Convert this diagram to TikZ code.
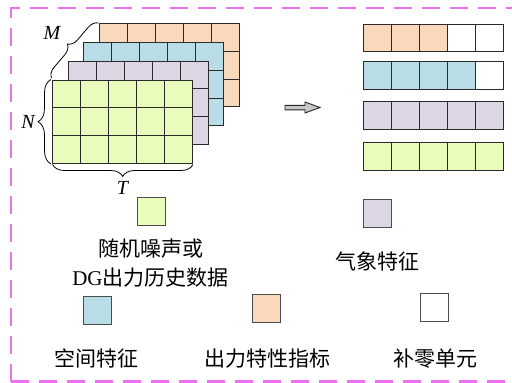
\documentclass[tikz,border=0pt]{standalone}
\usepackage{fontspec}
\setmainfont{Liberation Serif}
\newfontfamily\cjk{Noto Sans CJK SC}
\usetikzlibrary{decorations.pathreplacing}
\definecolor{cgreen}{HTML}{E9FCBC}
\definecolor{corange}{HTML}{FAD8BC}
\definecolor{cblue}{HTML}{B8DDE6}
\definecolor{cpurple}{HTML}{DDD7E5}
\definecolor{cborder}{HTML}{EE72EE}
\definecolor{cline}{HTML}{2A2A2A}
\tikzset{
  cellbox/.style={draw=cline, line width=0.9pt},
  legbox/.style={draw=black!70, line width=1.1pt, minimum width=28pt, minimum height=28pt, inner sep=0pt, anchor=north west},
  lbl/.style={font=\fontsize{21}{25}\selectfont\cjk, inner sep=0pt},
  mathlbl/.style={font=\fontsize{20}{24}\selectfont\itshape, inner sep=0pt},
  bracestyle/.style={draw=black, line width=0.8pt, decorate},
  framestyle/.style={cborder, line width=2.2pt, dash pattern=on 18pt off 10pt},
}
% grid block: x, y (top-left, pixel coords), fill colour
\newcommand{\gridblk}[3]{%
  \fill[#3] (#1,#2) rectangle ++(140,83.5);
  \foreach \i in {1,2,3,4} {\draw[cellbox] ({#1+28*\i},#2) -- ++(0,83.5);}
  \foreach \j in {1,2} {\draw[cellbox] (#1,{#2+27.83*\j}) -- ++(140,0);}
  \draw[cellbox] (#1,#2) rectangle ++(140,83.5);
}
% row: x, y, number of coloured cells, colour
\newcommand{\rowblk}[4]{%
  \foreach \i in {0,...,4} {
    \pgfmathsetmacro{\ci}{\i<#3 ? 1 : 0}
    \ifdim\ci pt>0.5pt
      \draw[cellbox, fill=#4] ({#1+28.1*\i},#2) rectangle ++(28.1,27.7);
    \else
      \draw[cellbox, fill=white] ({#1+28.1*\i},#2) rectangle ++(28.1,27.7);
    \fi
  }
}
\begin{document}
\begin{tikzpicture}[x=1pt,y=-1pt]
\useasboundingbox (0,0) rectangle (512,383);
\fill[white] (0,0) rectangle (512,383);
% dashed frame (right side lies beyond the picture)
\draw[framestyle] (11,381.5) -- (11,8) -- (520,8);
\draw[framestyle] (11,381.5) -- (520,381.5);

% stacked grids
\gridblk{99.3}{23.3}{corange}
\gridblk{83.5}{42.3}{cblue}
\gridblk{68.3}{61}{cpurple}
\gridblk{52.7}{80}{cgreen}

% braces
\coordinate (nb1) at (51,164);
\coordinate (nb2) at (51,79.5);
\draw[bracestyle, decoration={brace, amplitude=13pt}] (nb1) -- (nb2);
\coordinate (tb1) at (193,164.5);
\coordinate (tb2) at (52.5,164.5);
\draw[bracestyle, decoration={brace, amplitude=12pt}] (tb1) -- (tb2);
\coordinate (mb1) at (51.5,78);
\coordinate (mb2) at (98.5,23);
\draw[bracestyle, decoration={brace, amplitude=10pt}] (mb1) -- (mb2);
\node[mathlbl] (labM) at (52,33) {M};
\node[mathlbl] (labN) at (28,122) {N};
\node[mathlbl] (labT) at (122.5,188) {T};

% arrow
\draw[fill=black!22, draw=black!85, line width=0.9pt]
  (285,105.3) -- (305,105.3) -- (305,102) -- (320,107.5) -- (305,113) -- (305,109.9) -- (285,109.9) -- cycle;

% right rows
\rowblk{363.3}{24}{3}{corange}
\rowblk{363.3}{61.7}{4}{cblue}
\rowblk{363.3}{101.9}{5}{cpurple}
\rowblk{363.3}{142.3}{5}{cgreen}

% legend
\node[legbox, fill=cgreen] (lg) at (136.7,196.7) {};
\node[legbox, fill=cpurple] (lp) at (363.3,199.3) {};
\node[legbox, fill=cblue] (lb) at (83.3,295.7) {};
\node[legbox, fill=corange] (lo) at (251.7,294.3) {};
\node[legbox, fill=white] (lw) at (420,293.3) {};

\node[lbl] (tg1) at (150.8,248.3) {随机噪声或};
\node[lbl] (tg2) at (150.5,277.3) {{\rmfamily DG}出力历史数据};
\node[lbl] (tp) at (377.5,261.7) {气象特征};
\node[lbl] (tb) at (96.7,358.3) {空间特征};
\node[lbl] (to) at (267,358.3) {出力特性指标};
\node[lbl] (tw) at (435,358.3) {补零单元};
\end{tikzpicture}
\end{document}
